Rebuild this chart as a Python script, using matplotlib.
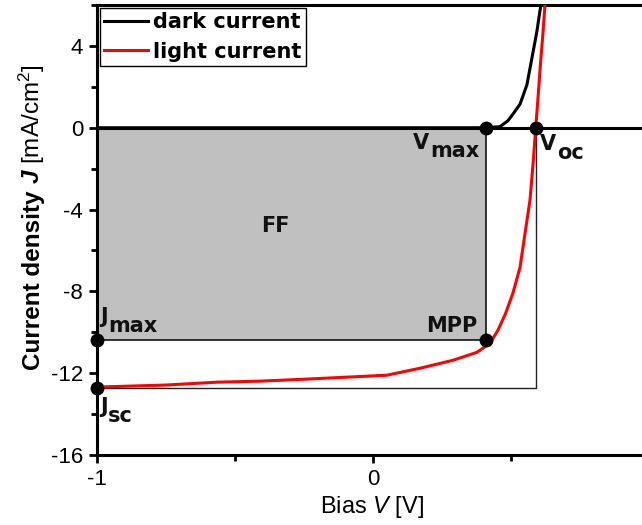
import numpy as np
import matplotlib
matplotlib.use('Agg')
import matplotlib.pyplot as plt
from matplotlib.patches import Rectangle
from matplotlib.ticker import MultipleLocator

plt.rcParams['font.family'] = 'Liberation Sans'
plt.rcParams['axes.unicode_minus'] = False
plt.rcParams['mathtext.fontset'] = 'custom'
plt.rcParams['mathtext.rm'] = 'Liberation Sans'
plt.rcParams['mathtext.it'] = 'Liberation Sans:italic'
plt.rcParams['mathtext.bfit'] = 'Liberation Sans:italic:bold'

# J-V curves of the cell (V in volts, J in mA/cm^2)
v_light = [-1.0, -0.75, -0.565, -0.41, -0.24, 0.05, 0.17, 0.29, 0.377, 0.424,
           0.453, 0.48, 0.507, 0.533, 0.551, 0.569, 0.58, 0.59, 0.6, 0.608, 0.616, 0.623]
j_light = [-12.68, -12.58, -12.44, -12.39, -12.29, -12.1, -11.76, -11.37, -10.98, -10.54,
           -9.9, -9.1, -8.1, -6.83, -5.17, -3.56, -1.8, 0.0, 1.8, 3.3, 4.6, 5.95]

v_dark = [-1.0, 0.40, 0.46, 0.489, 0.507, 0.533, 0.558, 0.576, 0.594, 0.605, 0.609]
j_dark = [0.0, 0.0, 0.05, 0.34, 0.66, 1.15, 2.1, 3.4, 4.7, 5.7, 6.0]

# characteristic points
v_start = -1.0
v_max = 0.41
v_oc = 0.59
j_max = -10.4
j_sc = -12.7

fig = plt.figure(figsize=(6.42, 5.25), dpi=100)
ax = fig.add_axes([97/642, 70/525, 545/642, 450/525])

# fill factor area and the Voc x Jsc box
ax.add_patch(Rectangle((v_start, j_max), v_max - v_start, -j_max,
                       facecolor='#c0c0c0', edgecolor='black', lw=1.1, zorder=1))
ax.plot([v_start, v_oc, v_oc], [j_sc, j_sc, 0], color='#222222', lw=1.0, zorder=1)
ax.axhline(0, color='black', lw=2.2, zorder=2)

ax.plot(v_dark, j_dark, color='black', lw=2.2, label='dark current', zorder=3)
ax.plot(v_light, j_light, color='red', lw=2.2, label='light current', zorder=3)

ax.plot([v_start, v_start, v_max, v_oc, v_max], [j_max, j_sc, 0, 0, j_max],
        'o', color='black', ms=9, clip_on=False, zorder=5)

ax.set_xlim(-1, 0.975)
ax.set_ylim(-16, 6)
ax.xaxis.set_major_locator(MultipleLocator(1))
ax.xaxis.set_minor_locator(MultipleLocator(0.5))
ax.yaxis.set_major_locator(MultipleLocator(4))
ax.yaxis.set_minor_locator(MultipleLocator(2))
ax.tick_params(which='major', direction='out', length=6, width=2, labelsize=16, pad=4)
ax.tick_params(which='minor', direction='out', length=4, width=2)
ax.tick_params(top=False, right=False)
for s in ['left', 'bottom', 'top']:
    ax.spines[s].set_linewidth(2.2)
ax.spines['right'].set_visible(False)

# point labels: letter plus same-size subscript
def sub_label(x, y, base, sub, dy=-3.5):
    t = ax.text(x, y, base, fontsize=15, family='DejaVu Sans', weight='bold',
                ha='left', va='top', color='#111111', zorder=6)
    ax.annotate(sub, xy=(1, 0), xycoords=t, xytext=(0.5, dy), textcoords='offset points',
                fontsize=15, family='DejaVu Sans', weight='bold', ha='left',
                va='baseline', color='#111111', zorder=6)

sub_label(0.145, -0.24, 'V', 'max')
sub_label(0.605, -0.29, 'V', 'oc')
sub_label(-0.989, -8.78, 'J', 'max')
sub_label(-0.989, -13.17, 'J', 'sc')

ax.text(0.38, -10.0, 'MPP', fontsize=15, family='DejaVu Sans', weight='bold',
        ha='right', va='baseline', color='#111111')
ax.text(-0.355, -4.78, 'FF', fontsize=15, family='DejaVu Sans', weight='bold',
        ha='center', va='center', color='#111111')

leg = ax.legend(loc='upper left', prop={'family': 'DejaVu Sans', 'weight': 'bold', 'size': 15},
                frameon=True, fancybox=False, edgecolor='black', framealpha=1,
                handlelength=2.1, handletextpad=0.25, borderpad=0.2, labelspacing=0.45,
                borderaxespad=0.15)
leg.get_frame().set_linewidth(1.0)

# axis titles
fig.text(40/642, 1 - 184/525, 'Current density ', rotation=90, rotation_mode='anchor',
         ha='right', va='baseline', fontsize=17.5, weight='bold')
fig.text(40/642, 1 - 184/525, r'$\mathbfit{J}$ [mA/cm$^2$]', rotation=90, rotation_mode='anchor',
         ha='left', va='baseline', fontsize=17.5)
fig.text(372/642, 1 - 513/525, r'Bias $V$ [V]', ha='center', va='baseline', fontsize=17)

fig.savefig('out.png', dpi=100)
